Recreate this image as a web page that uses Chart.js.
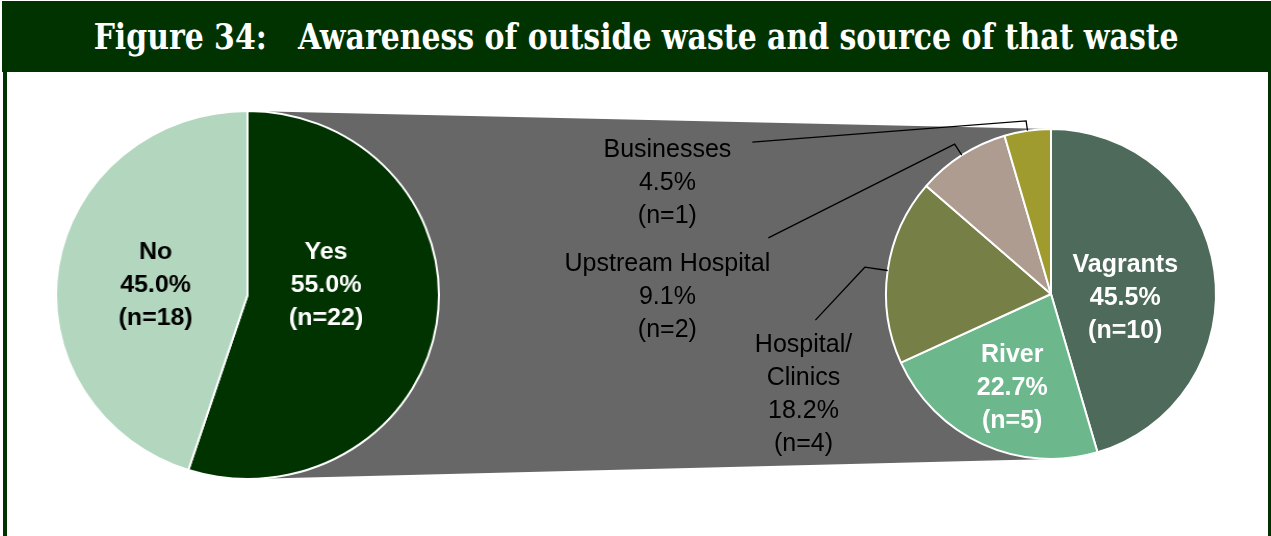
<!DOCTYPE html>
<html>
<head>
<meta charset="utf-8">
<script src="https://cdn.jsdelivr.net/npm/chart.js@4.4.0/dist/chart.umd.min.js"></script>
<style>
  html, body { margin: 0; padding: 0; background: #fff; }
  #page { position: relative; width: 1271px; height: 536px; overflow: hidden; background: #fff; }
  #header { position: absolute; left: 2px; top: 1px; width: 1269px; height: 71px; background: #003300; }
  #title { position: absolute; left: 0; top: 14px; width: 100%; text-align: center; color: #fff;
           font: bold 35px "DejaVu Serif", serif; font-stretch: condensed; white-space: pre; line-height: 44px; }
  #titleText { display: inline-block; transform-origin: 50% 50%; }
  .side { position: absolute; top: 72px; bottom: 0; background: #003300; }
  #leftBorder { left: 3px; width: 4px; }
  #rightBorder { left: 1268px; width: 3px; }
  #sourceCanvas { position: absolute; left: 0; top: 0; }
  #awareCanvas { position: absolute; left: 55px; top: 110px; }
</style>
</head>
<body>
<div id="page">
  <div id="header"><div id="title"><span id="titleText">Figure 34:   Awareness of outside waste and source of that waste</span></div></div>
  <div class="side" id="leftBorder"></div>
  <div class="side" id="rightBorder"></div>
  <canvas id="sourceCanvas" width="1271" height="536"></canvas>
  <canvas id="awareCanvas" width="370" height="370" style="width:385px;height:370px"></canvas>
</div>
<script>
// Awareness (left pie)
const awareLabels = ['Yes', 'No'];
const awareCounts = [22, 18];
const awarePct = [55.0, 45.0];
const awareColors = ['#003300', '#b3d7be'];

// Source of waste (right pie), clockwise from 12 o'clock
const sourceLabels = ['Vagrants', 'River', 'Hospital/\nClinics', 'Upstream Hospital', 'Businesses'];
const sourceCounts = [10, 5, 4, 2, 1];
const sourcePct = [45.5, 22.7, 18.2, 9.1, 4.5];
const sourceColors = ['#4e6a5a', '#6cb78b', '#767f45', '#ae9c90', '#9f9b2e'];

// label placement, in units of the pie radius from the pie centre
const awareLabelPos = [
    { dx: 0.41, dy: -0.054, color: '#fff' },
    { dx: -0.48, dy: -0.054, color: '#000' }
];
const sourceLabelPos = [
    { dx: 0.45, dy: 0.024, color: '#fff', bold: true },
    { dx: -0.235, dy: 0.57, color: '#fff', bold: true },
    { dx: -1.50, dy: 0.61, color: '#000', anchor: [-1.428, 0.158], knee: 1.14 },
    { dx: -2.325, dy: 0.018, color: '#000', anchor: [-1.713, -0.34], knee: 1.08 },
    { dx: -2.325, dy: -0.67, color: '#000', anchor: [-1.81, -0.92], knee: 1.06 }
];

const lineH = 33;

function labelLines(name, pct, n) {
    return name.split('\n').concat([pct.toFixed(1) + '%', '(n=' + n + ')']);
}

function drawBlock(ctx, lines, cx, cy) {
    const top = cy - (lines.length - 1) * lineH / 2;
    lines.forEach((t, i) => ctx.fillText(t, cx, top + i * lineH));
}

// title stretched to the width used in the report
const titleSpan = document.getElementById('titleText');
titleSpan.style.transform = 'scaleX(' + (1085 / titleSpan.getBoundingClientRect().width) + ')';

const awareLabelPlugin = {
    id: 'awareLabels',
    afterDatasetsDraw(chart) {
        const ctx = chart.ctx;
        const arcs = chart.getDatasetMeta(0).data;
        ctx.save();
        ctx.textAlign = 'center';
        ctx.textBaseline = 'middle';
        ctx.font = 'bold 24px "Liberation Sans", Arial, sans-serif';
        arcs.forEach((arc, i) => {
            const p = awareLabelPos[i];
            const R = arc.outerRadius;
            ctx.fillStyle = p.color;
            drawBlock(ctx, labelLines(awareLabels[i], awarePct[i], awareCounts[i]), arc.x + p.dx * R, arc.y + p.dy * R);
        });
        ctx.restore();
    }
};

const awareChart = new Chart(document.getElementById('awareCanvas'), {
    type: 'pie',
    data: {
        labels: awareLabels,
        datasets: [{
            data: awareCounts,
            backgroundColor: awareColors,
            borderColor: '#ffffff',
            borderWidth: 2
        }]
    },
    options: {
        responsive: false,
        animation: false,
        events: [],
        plugins: {
            legend: { display: false },
            tooltip: { enabled: false }
        }
    },
    plugins: [awareLabelPlugin]
});

// grey band joining the two pies, drawn under both of them
const connectorPlugin = {
    id: 'connector',
    beforeDatasetsDraw(chart) {
        const left = awareChart.getDatasetMeta(0).data[0];
        const cv = awareChart.canvas;
        const sy = cv.clientHeight / awareChart.height;
        const sx = cv.clientWidth / awareChart.width;
        const lx = cv.offsetLeft + left.x * sx;
        const lTop = cv.offsetTop + (left.y - left.outerRadius) * sy;
        const lBot = cv.offsetTop + (left.y + left.outerRadius) * sy;
        const right = chart.getDatasetMeta(0).data[0];
        const ctx = chart.ctx;
        ctx.save();
        ctx.fillStyle = '#676767';
        ctx.beginPath();
        ctx.moveTo(lx, lTop);
        ctx.lineTo(right.x, right.y - right.outerRadius);
        ctx.lineTo(right.x, right.y + right.outerRadius);
        ctx.lineTo(lx, lBot);
        ctx.closePath();
        ctx.fill();
        ctx.restore();
    }
};

const sourceLabelPlugin = {
    id: 'sourceLabels',
    afterDatasetsDraw(chart) {
        const ctx = chart.ctx;
        const arcs = chart.getDatasetMeta(0).data;
        ctx.save();
        ctx.textAlign = 'center';
        ctx.textBaseline = 'middle';
        arcs.forEach((arc, i) => {
            const p = sourceLabelPos[i];
            const R = arc.outerRadius;
            const lines = labelLines(sourceLabels[i], sourcePct[i], sourceCounts[i]);
            if (p.anchor) {
                const mid = (arc.startAngle + arc.endAngle) / 2;
                ctx.strokeStyle = '#000';
                ctx.lineWidth = 1.3;
                ctx.beginPath();
                ctx.moveTo(arc.x + p.anchor[0] * R, arc.y + p.anchor[1] * R);
                ctx.lineTo(arc.x + Math.cos(mid) * R * p.knee, arc.y + Math.sin(mid) * R * p.knee);
                ctx.lineTo(arc.x + Math.cos(mid) * R, arc.y + Math.sin(mid) * R);
                ctx.stroke();
            }
            ctx.font = (p.bold ? 'bold ' : '') + '25px "Liberation Sans", Arial, sans-serif';
            ctx.fillStyle = p.color;
            drawBlock(ctx, lines, arc.x + p.dx * R, arc.y + p.dy * R);
        });
        ctx.restore();
    }
};

new Chart(document.getElementById('sourceCanvas'), {
    type: 'pie',
    data: {
        labels: sourceLabels,
        datasets: [{
            data: sourceCounts,
            backgroundColor: sourceColors,
            borderColor: '#ffffff',
            borderWidth: 2
        }]
    },
    options: {
        responsive: false,
        animation: false,
        events: [],
        layout: { padding: { left: 885, top: 128, right: 54, bottom: 76 } },
        plugins: {
            legend: { display: false },
            tooltip: { enabled: false }
        }
    },
    plugins: [connectorPlugin, sourceLabelPlugin]
});
</script>
</body>
</html>
